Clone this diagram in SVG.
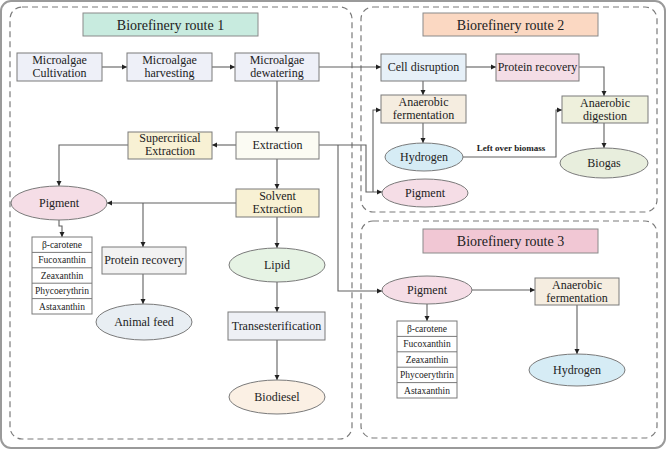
<svg xmlns="http://www.w3.org/2000/svg" width="667" height="450" viewBox="0 0 667 450">
<style>
text{font-family:"Liberation Serif",serif;fill:#222;text-anchor:middle}
.t{font-size:12px}
.h{font-size:14px}
.s{font-size:9.5px}
.b{font-size:9px;font-weight:bold}
.box{stroke:#7a7a7a;stroke-width:1}
.ell{stroke:#7a7a7a;stroke-width:1}
.route{fill:none;stroke:#7a7a7a;stroke-width:1.2;stroke-dasharray:6 4}
.conn{fill:none;stroke:#606060;stroke-width:1.1}
</style>
<defs>
<marker id="ar" markerWidth="6" markerHeight="6" refX="5" refY="3" orient="auto" markerUnits="userSpaceOnUse">
<path d="M0,0.5 L5,3 L0,5.5 Z" fill="#222"/>
</marker>
</defs>
<rect x="1" y="1" width="664" height="447" rx="10" fill="#fff" stroke="#9a9a9a" stroke-width="2"/>
<g id="route1-frame"><rect class="route" x="10" y="7" width="342" height="432" rx="12"/></g>
<g id="route2-frame"><rect class="route" x="361" y="7" width="296" height="205" rx="12"/></g>
<g id="route3-frame"><rect class="route" x="361" y="221" width="296" height="217" rx="12"/></g>

<g id="connectors">
<line class="conn" x1="102" y1="67" x2="127" y2="67" marker-end="url(#ar)"/>
<line class="conn" x1="212" y1="67" x2="235" y2="67" marker-end="url(#ar)"/>
<line class="conn" x1="319" y1="67" x2="381" y2="67" marker-end="url(#ar)"/>
<line class="conn" x1="466" y1="67" x2="496" y2="67" marker-end="url(#ar)"/>
<line class="conn" x1="423" y1="81" x2="423" y2="95" marker-end="url(#ar)"/>
<line class="conn" x1="423" y1="123" x2="423" y2="143" marker-end="url(#ar)"/>
<polyline class="conn" points="579,67 604,67 604,96" marker-end="url(#ar)"/>
<line class="conn" x1="604" y1="123" x2="604" y2="148" marker-end="url(#ar)"/>
<polyline class="conn" points="463,157 556,157 556,110 562,110" marker-end="url(#ar)"/>
<line class="conn" x1="277" y1="81" x2="277" y2="132" marker-end="url(#ar)"/>
<line class="conn" x1="236" y1="145" x2="212" y2="145" marker-end="url(#ar)"/>
<polyline class="conn" points="128,145 59,145 59,186" marker-end="url(#ar)"/>
<line class="conn" x1="277" y1="159" x2="277" y2="189" marker-end="url(#ar)"/>
<line class="conn" x1="236" y1="203" x2="107" y2="203" marker-end="url(#ar)"/>
<line class="conn" x1="143" y1="203" x2="143" y2="247" marker-end="url(#ar)"/>
<line class="conn" x1="143" y1="274" x2="143" y2="304" marker-end="url(#ar)"/>
<line class="conn" x1="277" y1="217" x2="277" y2="248" marker-end="url(#ar)"/>
<line class="conn" x1="277" y1="282" x2="277" y2="312" marker-end="url(#ar)"/>
<line class="conn" x1="277" y1="340" x2="277" y2="380" marker-end="url(#ar)"/>
<polyline class="conn" points="59,220 59,226 62,226 62,237" marker-end="url(#ar)"/>
<polyline class="conn" points="319,145 366,145 366,192 382,192" marker-end="url(#ar)"/>
<polyline class="conn" points="373,192 373,110 381,110" marker-end="url(#ar)"/>
<polyline class="conn" points="338,145 338,291 382,291" marker-end="url(#ar)"/>
<line class="conn" x1="472" y1="290" x2="535" y2="290" marker-end="url(#ar)"/>
<line class="conn" x1="577" y1="305" x2="577" y2="354" marker-end="url(#ar)"/>
<line class="conn" x1="427" y1="304" x2="427" y2="321" marker-end="url(#ar)"/>
<text class="b" x="511" y="151">Left over biomass</text>
</g>

<g id="title1"><rect x="83" y="13" width="175" height="23" fill="#c8ebdf" stroke="#8a8a8a"/><text class="h" x="170.5" y="29.5">Biorefinery route 1</text></g>
<g id="title2"><rect x="423" y="13" width="175" height="23" fill="#fbd8c2" stroke="#8a8a8a"/><text class="h" x="510.5" y="29.5">Biorefinery route 2</text></g>
<g id="title3"><rect x="423" y="229" width="175" height="24" fill="#f1c7d4" stroke="#8a8a8a"/><text class="h" x="510.5" y="246">Biorefinery route 3</text></g>

<g id="cultivation"><rect class="box" x="17" y="53" width="85" height="28" fill="#eef0f8"/><text class="t" x="59.5" y="64">Microalgae</text><text class="t" x="59.5" y="77">Cultivation</text></g>
<g id="harvesting"><rect class="box" x="127" y="53" width="85" height="28" fill="#eef0f8"/><text class="t" x="169.5" y="64">Microalgae</text><text class="t" x="169.5" y="77">harvesting</text></g>
<g id="dewatering"><rect class="box" x="235" y="53" width="84" height="28" fill="#eef0f8"/><text class="t" x="277" y="64">Microalgae</text><text class="t" x="277" y="77">dewatering</text></g>

<g id="cell-disruption"><rect class="box" x="381" y="54" width="85" height="27" fill="#e6f0f8"/><text class="t" x="423.5" y="71">Cell disruption</text></g>
<g id="protein-recovery-2"><rect class="box" x="496" y="54" width="83" height="27" fill="#f4dde6"/><text class="t" x="537.5" y="71">Protein recovery</text></g>
<g id="anaerobic-fermentation-2"><rect class="box" x="381" y="95" width="85" height="28" fill="#f5ede0"/><text class="t" x="423.5" y="106">Anaerobic</text><text class="t" x="423.5" y="119">fermentation</text></g>
<g id="anaerobic-digestion"><rect class="box" x="562" y="96" width="86" height="27" fill="#eef0dc"/><text class="t" x="605" y="107">Anaerobic</text><text class="t" x="605" y="120">digestion</text></g>
<g id="hydrogen-2"><ellipse class="ell" cx="424" cy="157" rx="39" ry="14" fill="#d6ecf5"/><text class="t" x="424" y="161">Hydrogen</text></g>
<g id="pigment-2"><ellipse class="ell" cx="425" cy="193" rx="43" ry="14" fill="#f5dde6"/><text class="t" x="425" y="197">Pigment</text></g>
<g id="biogas"><ellipse class="ell" cx="604" cy="163" rx="44" ry="15" fill="#e8eedd"/><text class="t" x="604" y="167">Biogas</text></g>

<g id="extraction"><rect class="box" x="236" y="132" width="83" height="27" fill="#fbfbf3"/><text class="t" x="277.5" y="149">Extraction</text></g>
<g id="supercritical"><rect class="box" x="128" y="132" width="84" height="27" fill="#f8f1d4"/><text class="t" x="170" y="142">Supercritical</text><text class="t" x="170" y="155">Extraction</text></g>
<g id="solvent"><rect class="box" x="236" y="189" width="83" height="28" fill="#f8f1d4"/><text class="t" x="277.5" y="200">Solvent</text><text class="t" x="277.5" y="213">Extraction</text></g>
<g id="pigment-1"><ellipse class="ell" cx="59" cy="203" rx="48" ry="17" fill="#f5dde6"/><text class="t" x="59" y="207">Pigment</text></g>
<g id="pigment-list-1">
<rect class="box" x="32" y="237" width="60" height="77" fill="#fff"/>
<line class="box" x1="32" y1="252.4" x2="92" y2="252.4"/><line class="box" x1="32" y1="267.8" x2="92" y2="267.8"/><line class="box" x1="32" y1="283.2" x2="92" y2="283.2"/><line class="box" x1="32" y1="298.6" x2="92" y2="298.6"/>
<text class="s" x="62" y="248">β-carotene</text><text class="s" x="62" y="263.4">Fucoxanthin</text><text class="s" x="62" y="278.8">Zeaxanthin</text><text class="s" x="62" y="294.2">Phycoerythrin</text><text class="s" x="62" y="309.6">Astaxanthin</text>
</g>
<g id="protein-recovery-1"><rect class="box" x="102" y="247" width="84" height="27" fill="#f2f2f2"/><text class="t" x="144" y="264">Protein recovery</text></g>
<g id="animal-feed"><ellipse class="ell" cx="144" cy="322" rx="48" ry="18" fill="#e8eef3"/><text class="t" x="144" y="326">Animal feed</text></g>
<g id="lipid"><ellipse class="ell" cx="277" cy="265" rx="48" ry="17" fill="#e6f3e4"/><text class="t" x="277" y="269">Lipid</text></g>
<g id="transesterification"><rect class="box" x="228" y="312" width="97" height="28" fill="#eef0f5"/><text class="t" x="276.5" y="330">Transesterification</text></g>
<g id="biodiesel"><ellipse class="ell" cx="277" cy="397" rx="48" ry="17" fill="#fbf0e4"/><text class="t" x="277" y="401">Biodiesel</text></g>

<g id="pigment-3"><ellipse class="ell" cx="427" cy="290" rx="45" ry="14" fill="#f5dde6"/><text class="t" x="427" y="294">Pigment</text></g>
<g id="anaerobic-fermentation-3"><rect class="box" x="535" y="278" width="84" height="27" fill="#f5ede0"/><text class="t" x="577" y="289">Anaerobic</text><text class="t" x="577" y="302">fermentation</text></g>
<g id="hydrogen-3"><ellipse class="ell" cx="577" cy="370" rx="48" ry="16" fill="#d6ecf5"/><text class="t" x="577" y="374">Hydrogen</text></g>
<g id="pigment-list-3">
<rect class="box" x="397" y="321" width="60" height="77" fill="#fff"/>
<line class="box" x1="397" y1="336.4" x2="457" y2="336.4"/><line class="box" x1="397" y1="351.8" x2="457" y2="351.8"/><line class="box" x1="397" y1="367.2" x2="457" y2="367.2"/><line class="box" x1="397" y1="382.6" x2="457" y2="382.6"/>
<text class="s" x="427" y="332">β-carotene</text><text class="s" x="427" y="347.4">Fucoxanthin</text><text class="s" x="427" y="362.8">Zeaxanthin</text><text class="s" x="427" y="378.2">Phycoerythrin</text><text class="s" x="427" y="393.6">Astaxanthin</text>
</g>
</svg>
